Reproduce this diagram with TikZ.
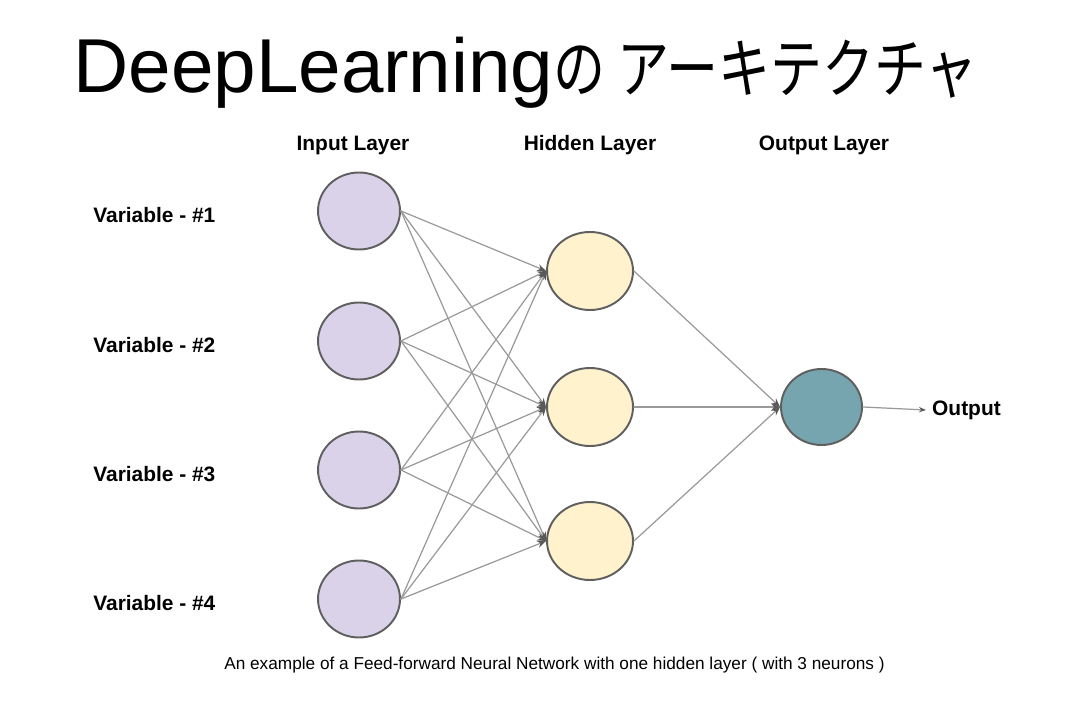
\documentclass[tikz,border=0pt]{standalone}
\usepackage{fontspec}
\setmainfont{Liberation Sans}
\newfontfamily\jpfont{Noto Sans CJK JP}
\usetikzlibrary{shapes.geometric,arrows.meta}
\definecolor{inpfill}{HTML}{D9D2E9}
\definecolor{hidfill}{HTML}{FFF2CC}
\definecolor{outfill}{HTML}{76A5AF}
\definecolor{wiregray}{HTML}{9A9A9A}
\definecolor{rimgray}{HTML}{5F5F5F}

\begin{document}
\begin{tikzpicture}[x=0.02cm,y=-0.02cm,line cap=round,line join=round,
  neuron/.style={ellipse,draw=rimgray,line width=1.1pt,inner sep=0pt,minimum width=1.64cm,minimum height=1.54cm},
  wire/.style={draw=wiregray,line width=0.7pt,-{Stealth[length=5pt,width=4pt,color=black!65]}},
  lbl/.style={font=\fontsize{11.9}{14}\selectfont\bfseries}]
  \useasboundingbox (0,0) rectangle (1077,712);
  \node[anchor=base west,inner sep=0pt] (title) at (73,93)
    {\fontsize{43.5}{50}\selectfont DeepLearning{\jpfont\fontsize{37}{44}\selectfont\scalebox{0.8}[1]{の アーキテクチャ}}};
  % layers
  \node[lbl] (inlayer) at (353,145) {Input Layer};
  \node[lbl] (hidlayer) at (590,145) {Hidden Layer};
  \node[lbl] (outlayer) at (824,145) {Output Layer};
  \foreach \i/\yy in {1/211,2/341,3/470,4/599}{
    \node[neuron,fill=inpfill] (in\i) at (359,\yy) {};
    \node[lbl,anchor=west,inner sep=0pt] (var\i) at (93,\yy+4) {Variable - \#\i};
  }
  \foreach \j/\yy in {1/271,2/407,3/541}{
    \node[neuron,fill=hidfill,minimum width=1.72cm,minimum height=1.56cm] (hid\j) at (590,\yy) {};
  }
  \node[neuron,fill=outfill,minimum width=1.62cm,minimum height=1.52cm] (out) at (821.5,407) {};
  \node[lbl,anchor=west] (outlbl) at (926,410) {Output};
  % connections
  \foreach \i in {1,...,4}{\foreach \j in {1,2,3}{\draw[wire] (in\i.east) -- (hid\j.west);}}
  \foreach \j in {1,2,3}{\draw[wire] (hid\j.east) -- (out.west);}
  \draw[wire,-{Stealth[length=4pt,width=3pt,color=black!65]}] (out.east) -- (outlbl.west);
  \node (caption) at (554.5,665) {\fontsize{9.8}{12}\selectfont An example of a Feed-forward Neural Network with one hidden layer ( with 3 neurons )};
\end{tikzpicture}
\end{document}
